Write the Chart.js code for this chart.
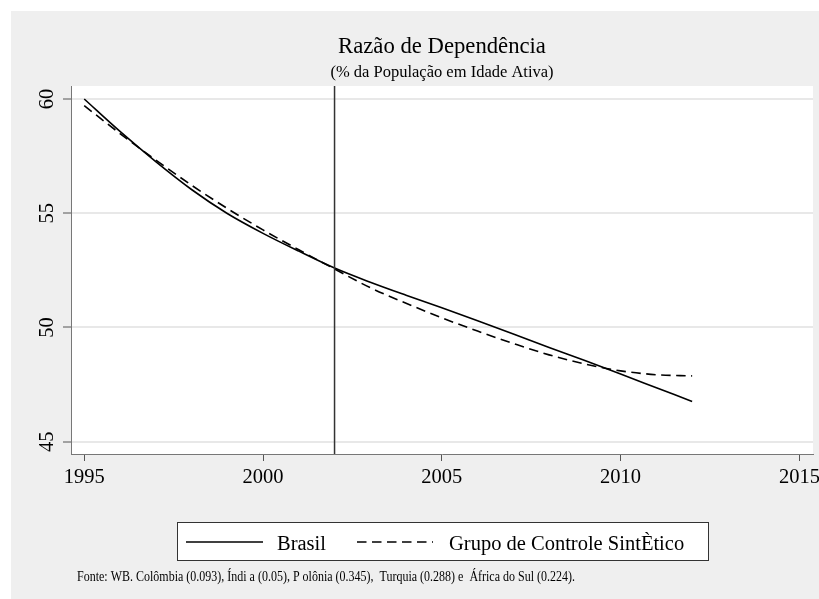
<!DOCTYPE html>
<html>
<head>
<meta charset="utf-8">
<title>Razão de Dependência</title>
<script src="https://cdn.jsdelivr.net/npm/chart.js@4.4.1/dist/chart.umd.min.js"></script>
<style>
    html, body { margin: 0; padding: 0; background: #fff; }
    #wrap { width: 819px; height: 599px; }
</style>
</head>
<body>
<div id="wrap"><canvas id="razaoChart" width="819" height="599"></canvas></div>
<script>
// values
const years = [1995, 1996, 1997, 1998, 1999, 2000, 2001, 2002, 2003, 2004, 2005, 2006, 2007, 2008, 2009, 2010, 2011, 2012];
const brasil = [60.0, 58.58, 57.26, 56.04, 54.99, 54.12, 53.34, 52.6, 51.98, 51.41, 50.86, 50.29, 49.71, 49.12, 48.55, 47.96, 47.36, 46.76];
const sintetico = [59.71, 58.49, 57.33, 56.23, 55.21, 54.27, 53.4, 52.56, 51.74, 51.06, 50.42, 49.84, 49.3, 48.8, 48.4, 48.1, 47.93, 47.88];

const xTicks = [1995, 2000, 2005, 2010, 2015];
const yTicks = [45, 50, 55, 60];
const treatmentYear = 2002;

const seriesLabels = ['Brasil', 'Grupo de Controle SintÈtico'];
const titleText = 'Razão de Dependência';
const subtitleText = '(% da População em Idade Ativa)';
const footerText = 'Fonte: WB. Colômbia (0.093), Índi a (0.05), P olônia (0.345),  Turquia (0.288) e  África do Sul (0.224).';

const SERIF = "'Liberation Serif', 'DejaVu Serif', serif";
const DASH = [9.5, 5.5];

const toPoints = (arr) => arr.map((v, i) => ({ x: years[i], y: v }));

// grey Stata-like frame, titles, y labels, legend box and footer
const stataFrame = {
    id: 'stataFrame',
    beforeDraw(chart) {
        const { ctx, chartArea } = chart;
        ctx.save();
        ctx.fillStyle = '#ffffff';
        ctx.fillRect(0, 0, chart.width, chart.height);
        ctx.fillStyle = '#efefef';
        ctx.fillRect(11, 11, chart.width - 11, chart.height - 11);
        ctx.fillStyle = '#ffffff';
        ctx.fillRect(chartArea.left, chartArea.top, chartArea.right - chartArea.left, chartArea.bottom - chartArea.top);
        ctx.restore();
    },
    afterDatasetsDraw(chart) {
        const { ctx, chartArea } = chart;
        const x = chart.scales.x.getPixelForValue(treatmentYear);
        ctx.save();
        ctx.strokeStyle = '#333';
        ctx.lineWidth = 1.5;
        ctx.beginPath();
        ctx.moveTo(x, chartArea.top);
        ctx.lineTo(x, chartArea.bottom);
        ctx.stroke();
        ctx.restore();
    },
    afterDraw(chart) {
        const { ctx, chartArea } = chart;
        const cx = (chartArea.left + chartArea.right) / 2;
        ctx.save();
        ctx.fillStyle = '#000';
        ctx.textAlign = 'center';
        ctx.textBaseline = 'alphabetic';

        ctx.font = `22.7px ${SERIF}`;
        ctx.fillText(titleText, cx, 53);
        ctx.font = `16.5px ${SERIF}`;
        ctx.fillText(subtitleText, cx, 77);

        // rotated y labels
        const yScale = chart.scales.y;
        ctx.font = `20.5px ${SERIF}`;
        yTicks.forEach(v => {
            const y = yScale.getPixelForValue(v);
            ctx.save();
            ctx.translate(53, y);
            ctx.rotate(-Math.PI / 2);
            ctx.fillText(String(v), 0, 0);
            ctx.restore();
        });

        // legend
        ctx.fillStyle = '#fff';
        ctx.fillRect(177, 522, 531, 39);
        ctx.strokeStyle = '#333';
        ctx.lineWidth = 1;
        ctx.strokeRect(177.5, 522.5, 531, 38);

        ctx.strokeStyle = '#000';
        ctx.lineWidth = 1.6;
        ctx.beginPath();
        ctx.moveTo(186, 542);
        ctx.lineTo(263, 542);
        ctx.stroke();
        ctx.setLineDash(DASH);
        ctx.beginPath();
        ctx.moveTo(357, 542);
        ctx.lineTo(433, 542);
        ctx.stroke();
        ctx.setLineDash([]);

        ctx.fillStyle = '#000';
        ctx.textAlign = 'left';
        ctx.font = `20.5px ${SERIF}`;
        ctx.fillText(seriesLabels[0], 277, 550);
        ctx.fillText(seriesLabels[1], 449, 550);

        // footer, slightly condensed like the original
        ctx.font = `14px ${SERIF}`;
        const w = ctx.measureText(footerText).width;
        ctx.translate(77, 581);
        ctx.scale(498 / w, 1);
        ctx.fillText(footerText, 0, 0);
        ctx.restore();
    }
};

const ctx = document.getElementById('razaoChart').getContext('2d');

new Chart(ctx, {
    type: 'line',
    data: {
        datasets: [
            {
                label: seriesLabels[0],
                data: toPoints(brasil),
                borderColor: '#000',
                borderWidth: 1.6,
                pointRadius: 0,
                cubicInterpolationMode: 'monotone',
                fill: false
            },
            {
                label: seriesLabels[1],
                data: toPoints(sintetico),
                borderColor: '#000',
                borderWidth: 1.6,
                borderDash: DASH,
                pointRadius: 0,
                cubicInterpolationMode: 'monotone',
                fill: false
            }
        ]
    },
    options: {
        responsive: false,
        animation: false,
        layout: {
            padding: { top: 86, right: 6, left: 0, bottom: 0 }
        },
        plugins: {
            legend: { display: false },
            title: { display: false },
            tooltip: { enabled: false }
        },
        scales: {
            x: {
                type: 'linear',
                min: 1994.63,
                max: 2015.38,
                afterBuildTicks: (scale) => {
                    scale.ticks = xTicks.map(v => ({ value: v }));
                },
                afterFit: (scale) => {
                    scale.height = 145;
                    scale.paddingLeft = 0;
                    scale.paddingRight = 0;
                },
                ticks: {
                    color: '#000',
                    padding: 4,
                    maxRotation: 0,
                    font: { family: SERIF, size: 20.5 },
                    callback: (v) => String(v)
                },
                grid: {
                    drawOnChartArea: false,
                    drawTicks: true,
                    tickLength: 7,
                    tickColor: '#555',
                    tickWidth: 1
                },
                border: { display: true, color: '#777', width: 1 }
            },
            y: {
                type: 'linear',
                min: 44.46,
                max: 60.57,
                afterBuildTicks: (scale) => {
                    scale.ticks = yTicks.map(v => ({ value: v }));
                },
                afterFit: (scale) => {
                    scale.width = 71;
                    scale.paddingTop = 0;
                    scale.paddingBottom = 0;
                },
                ticks: { display: false },
                grid: {
                    color: '#e8e8e8',
                    lineWidth: 2,
                    drawTicks: true,
                    tickLength: 8,
                    tickColor: '#555',
                    tickWidth: 1
                },
                border: { display: true, color: '#777', width: 1 }
            }
        }
    },
    plugins: [stataFrame]
});
</script>
</body>
</html>
